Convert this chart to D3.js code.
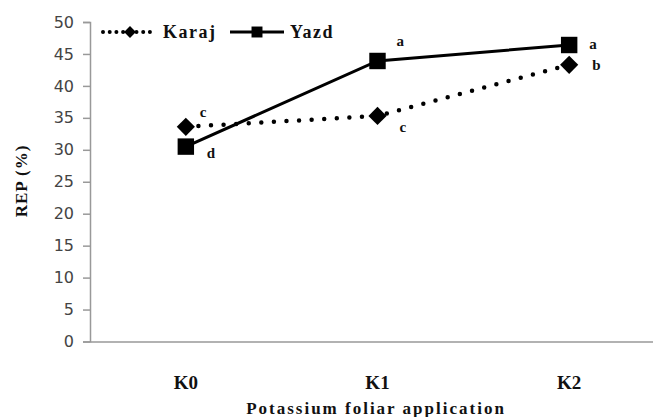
<!DOCTYPE html>
<html>
<head>
<meta charset="utf-8">
<script src="https://cdn.jsdelivr.net/npm/d3@7"></script>
<style>
    body { margin: 0; background: #fff; }
    svg { display: block; }
    .serif { font-family: 'Liberation Serif', 'DejaVu Serif', 'Times New Roman', serif; font-weight: bold; fill: #111; }
</style>
</head>
<body>
<div id="chart"></div>
<script>
// Chart values.
var categories = [ 'K0', 'K1', 'K2' ];
var karajValues = [ 33.6, 35.3, 43.3 ];
var yazdValues = [ 30.5, 43.9, 46.4 ];
var karajLetters = [ 'c', 'c', 'b' ];
var yazdLetters = [ 'd', 'a', 'a' ];
var yTicks = [ 0, 5, 10, 15, 20, 25, 30, 35, 40, 45, 50 ];

var width = 653,
    height = 417,
    margin = { top: 22, right: -12, bottom: 76, left: 90 };

var svg = d3.select( '#chart' )
    .append( 'svg' )
    .attr( 'width', width )
    .attr( 'height', height );

var x = d3.scaleBand()
    .domain( categories )
    .range( [margin.left, width - margin.right] );

var y = d3.scaleLinear()
    .domain( [0, 50] )
    .range( [height - margin.bottom + 0.5, margin.top] );

var cx = function ( d, i ) { return x( categories[i] ) + x.bandwidth() / 2; };

// Y axis.
var yAxis = svg.append( 'g' )
    .attr( 'transform', 'translate(' + margin.left + ',0)' )
    .call( d3.axisLeft( y ).tickValues( yTicks ).tickSize( 7 ).tickPadding( 9 ) );
yAxis.select( '.domain' ).attr( 'stroke', '#999' ).attr( 'stroke-width', 1.5 );
yAxis.selectAll( '.tick line' ).attr( 'stroke', '#999' ).attr( 'stroke-width', 1.5 );
yAxis.selectAll( '.tick text' )
    .attr( 'font-family', 'DejaVu Sans' )
    .attr( 'font-size', '16px' )
    .attr( 'fill', '#444' );

// X axis.
var xAxis = svg.append( 'g' )
    .attr( 'transform', 'translate(0,' + y( 0 ) + ')' )
    .call( d3.axisBottom( x ).tickSize( 0 ).tickPadding( 34 ) );
xAxis.select( '.domain' ).attr( 'stroke', '#999' ).attr( 'stroke-width', 1.5 );
xAxis.selectAll( '.tick text' )
    .attr( 'class', 'serif' )
    .attr( 'font-family', null )
    .attr( 'font-size', '19px' );

// Axis titles.
svg.append( 'text' )
    .attr( 'class', 'serif' )
    .attr( 'x', 376 )
    .attr( 'y', 414 )
    .attr( 'text-anchor', 'middle' )
    .attr( 'font-size', '17px' )
    .attr( 'letter-spacing', '2px' )
    .text( 'Potassium foliar application' );

svg.append( 'text' )
    .attr( 'class', 'serif' )
    .attr( 'transform', 'translate(27,181) rotate(-90)' )
    .attr( 'text-anchor', 'middle' )
    .attr( 'font-size', '17px' )
    .attr( 'letter-spacing', '1px' )
    .text( 'REP (%)' );

var line = d3.line()
    .x( cx )
    .y( function ( d ) { return y( d ); } );

var diamond = d3.symbol().type( d3.symbolSquare ).size( 165 );
var square = d3.symbol().type( d3.symbolSquare ).size( 270 );

// Karaj: dotted line with diamonds.
svg.append( 'path' )
    .datum( karajValues )
    .attr( 'd', line )
    .attr( 'fill', 'none' )
    .attr( 'stroke', '#000' )
    .attr( 'stroke-width', 4.5 )
    .attr( 'stroke-linecap', 'round' )
    .attr( 'stroke-dasharray', '0 12.6' );

svg.append( 'g' )
    .selectAll( 'path' )
    .data( karajValues )
    .join( 'path' )
    .attr( 'd', diamond )
    .attr( 'transform', ( d, i ) => 'translate(' + cx( d, i ) + ',' + y( d ) + ') rotate(45)' )
    .attr( 'fill', '#000' );

// Yazd: solid line with squares.
svg.append( 'path' )
    .datum( yazdValues )
    .attr( 'd', line )
    .attr( 'fill', 'none' )
    .attr( 'stroke', '#000' )
    .attr( 'stroke-width', 3 );

svg.append( 'g' )
    .selectAll( 'path' )
    .data( yazdValues )
    .join( 'path' )
    .attr( 'd', square )
    .attr( 'transform', ( d, i ) => 'translate(' + cx( d, i ) + ',' + y( d ) + ')' )
    .attr( 'fill', '#000' );

// Significance letters.
var karajOffsets = [ [ 14, -10 ], [ 22, 16 ], [ 23, 5 ] ];
var yazdOffsets = [ [ 21, 11 ], [ 19, -15 ], [ 20, 4 ] ];

svg.append( 'g' )
    .selectAll( 'text' )
    .data( karajValues )
    .join( 'text' )
    .attr( 'class', 'serif' )
    .attr( 'font-size', '15px' )
    .attr( 'x', ( d, i ) => cx( d, i ) + karajOffsets[i][0] )
    .attr( 'y', ( d, i ) => y( d ) + karajOffsets[i][1] )
    .text( ( d, i ) => karajLetters[i] );

svg.append( 'g' )
    .selectAll( 'text' )
    .data( yazdValues )
    .join( 'text' )
    .attr( 'class', 'serif' )
    .attr( 'font-size', '15px' )
    .attr( 'x', ( d, i ) => cx( d, i ) + yazdOffsets[i][0] )
    .attr( 'y', ( d, i ) => y( d ) + yazdOffsets[i][1] )
    .text( ( d, i ) => yazdLetters[i] );

// Legend.
var legend = svg.append( 'g' ).attr( 'transform', 'translate(0,32)' );
legend.append( 'line' )
    .attr( 'x1', 103 ).attr( 'x2', 150 )
    .attr( 'stroke', '#000' )
    .attr( 'stroke-width', 4 )
    .attr( 'stroke-linecap', 'round' )
    .attr( 'stroke-dasharray', '0 6.7' );
legend.append( 'path' )
    .attr( 'd', d3.symbol().type( d3.symbolSquare ).size( 70 ) )
    .attr( 'transform', 'translate(130,0) rotate(45)' )
    .attr( 'fill', '#000' );
legend.append( 'text' )
    .attr( 'class', 'serif' )
    .attr( 'x', 163 ).attr( 'y', 6 )
    .attr( 'font-size', '18px' )
    .attr( 'letter-spacing', '1.5px' )
    .text( 'Karaj' );
legend.append( 'line' )
    .attr( 'x1', 230 ).attr( 'x2', 284 )
    .attr( 'stroke', '#000' )
    .attr( 'stroke-width', 3 );
legend.append( 'path' )
    .attr( 'd', d3.symbol().type( d3.symbolSquare ).size( 120 ) )
    .attr( 'transform', 'translate(257,0)' )
    .attr( 'fill', '#000' );
legend.append( 'text' )
    .attr( 'class', 'serif' )
    .attr( 'x', 290 ).attr( 'y', 6 )
    .attr( 'font-size', '18px' )
    .attr( 'letter-spacing', '1.5px' )
    .text( 'Yazd' );
</script>
</body>
</html>
